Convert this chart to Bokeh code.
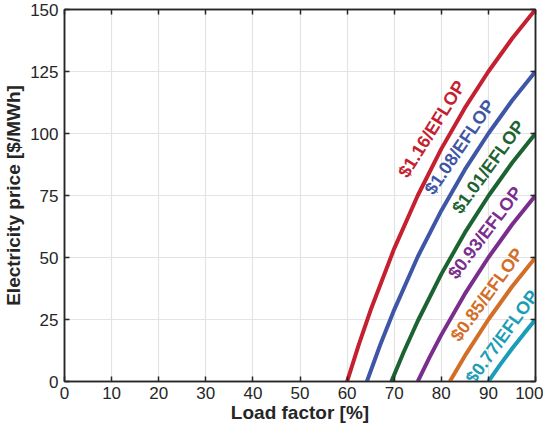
from bokeh.plotting import figure
from bokeh.models import LinearAxis, FixedTicker, Range1d, ColumnDataSource
from bokeh.embed import file_html
from bokeh.resources import INLINE
from bokeh.core.properties import value

# Data
x_ticks = [0, 10, 20, 30, 40, 50, 60, 70, 80, 90, 100]
y_ticks = [0, 25, 50, 75, 100, 125, 150]

load_116 = [60, 62.5, 65, 70, 75, 80, 85, 90, 95, 100]
price_116 = [0, 15.0, 28.8, 53.6, 75.0, 93.8, 110.3, 125.0, 138.2, 150.0]

load_108 = [64.2, 67, 70, 75, 80, 85, 90, 95, 100]
price_108 = [0, 14.6, 28.9, 50.3, 68.9, 85.4, 100.0, 113.2, 125.0]

load_101 = [69.4, 72, 75, 80, 85, 90, 95, 100]
price_101 = [0, 11.8, 24.4, 43.3, 60.0, 74.8, 88.1, 100.0]

load_093 = [75, 77.5, 80, 85, 90, 95, 100]
price_093 = [0, 9.7, 18.8, 35.3, 50.0, 63.2, 75.0]

load_085 = [81.8, 85, 90, 95, 100]
price_085 = [0, 10.3, 25.0, 38.2, 50.0]

load_077 = [90, 92.5, 95, 97.5, 100]
price_077 = [0, 6.8, 13.2, 19.2, 25.0]

series_labels = ["$1.16/EFLOP", "$1.08/EFLOP", "$1.01/EFLOP",
                 "$0.93/EFLOP", "$0.85/EFLOP", "$0.77/EFLOP"]
series_colors = ["#c42030", "#3f56a6", "#1d6331", "#7b2d8e", "#d36e27", "#1a9db6"]
label_x = [78.0, 83.9, 90.0, 89.3, 89.7, 92.9]
label_y = [101.8, 94.5, 86.5, 60.0, 35.0, 18.0]
label_angle = [58, 56, 54, 53, 54, 54]

FONT = "Liberation Sans"
DARK = "#262626"

p = figure(width=543, height=425, x_range=Range1d(0, 100), y_range=Range1d(0, 150),
           output_backend="svg", toolbar_location=None,
           min_border_left=58, min_border_right=8, min_border_top=9, min_border_bottom=40,
           background_fill_color="white", border_fill_color="white")

p.outline_line_color = DARK
p.outline_line_width = 1.5

p.xaxis.ticker = FixedTicker(ticks=x_ticks)
p.yaxis.ticker = FixedTicker(ticks=y_ticks)
for ax in [p.xaxis[0], p.yaxis[0]]:
    ax.major_tick_in = 5
    ax.major_tick_out = 0
    ax.minor_tick_line_color = None
    ax.axis_line_color = DARK
    ax.axis_line_width = 1.5
    ax.major_tick_line_color = DARK
    ax.major_tick_line_width = 1.5
    ax.major_label_text_font = FONT
    ax.major_label_text_font_size = "17px"
    ax.major_label_text_color = DARK
    ax.axis_label_text_font = FONT
    ax.axis_label_text_font_size = "19px"
    ax.axis_label_text_font_style = "bold"
    ax.axis_label_text_color = DARK

p.xaxis.axis_label = "Load factor [%]"
p.yaxis.axis_label = "Electricity price [$/MWh]"
p.xaxis.major_label_standoff = 5
p.yaxis.major_label_standoff = 6
p.xaxis.axis_label_standoff = 0
p.yaxis.axis_label_standoff = 3

for loc, ticks in [("above", x_ticks), ("right", y_ticks)]:
    ax = LinearAxis(ticker=FixedTicker(ticks=ticks), major_tick_in=5, major_tick_out=0,
                    minor_tick_line_color=None, axis_line_color=DARK, axis_line_width=1.5,
                    major_tick_line_color=DARK, major_tick_line_width=1.5,
                    major_label_text_font_size="0px", major_label_standoff=0,
                    major_label_overrides={t: "" for t in ticks})
    p.add_layout(ax, loc)

p.xgrid.ticker = FixedTicker(ticks=x_ticks)
p.ygrid.ticker = FixedTicker(ticks=y_ticks)
p.grid.grid_line_color = "#e3e3e3"
p.grid.grid_line_width = 1.2

curves = [(load_116, price_116), (load_108, price_108), (load_101, price_101),
          (load_093, price_093), (load_085, price_085), (load_077, price_077)]
for (lx, py), c in zip(curves, series_colors):
    p.line(lx, py, line_color=c, line_width=4)

src = ColumnDataSource(dict(x=label_x, y=label_y, text=series_labels,
                            color=series_colors, angle=label_angle))
p.text(x="x", y="y", text="text", angle="angle", angle_units="deg", source=src,
       text_color="color", text_font=value(FONT), text_font_size="18px",
       text_font_style="bold", text_align="center", text_baseline="middle")

open("out.html", "w").write(file_html(p, INLINE))
